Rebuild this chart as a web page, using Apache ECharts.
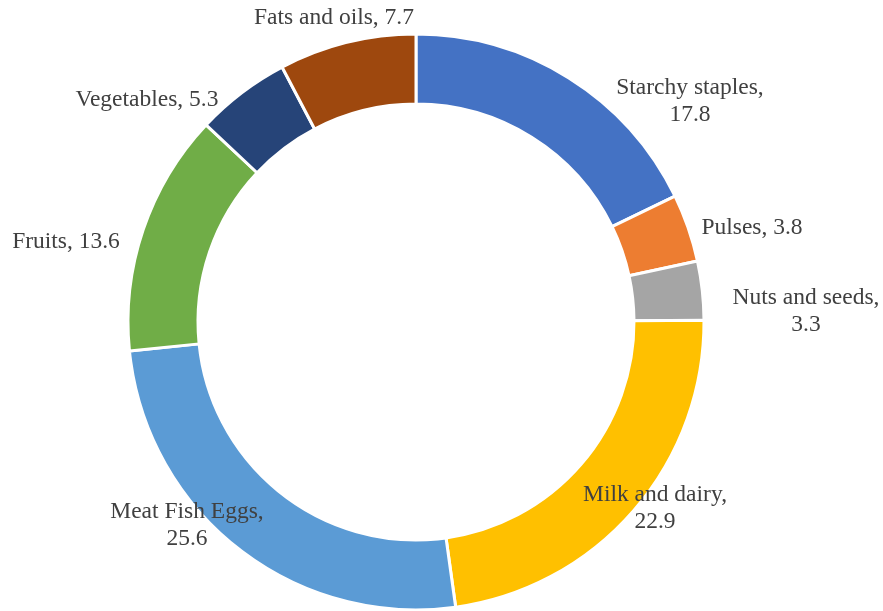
<!DOCTYPE html>
<html>
<head>
<meta charset="utf-8">
<script src="https://cdn.jsdelivr.net/npm/echarts@6/dist/echarts.min.js"></script>
<style>
  html, body { margin: 0; padding: 0; background: #fff; }
  #chart { width: 883px; height: 611px; }
</style>
</head>
<body>
<div id="chart"></div>
<script>
// 数据
const categories = ['Starchy staples', 'Pulses', 'Nuts and seeds', 'Milk and dairy',
                    'Meat Fish Eggs', 'Fruits', 'Vegetables', 'Fats and oils'];
const values = [17.8, 3.8, 3.3, 22.9, 25.6, 13.6, 5.3, 7.7];
const colors = ['#4472C4', '#ED7D31', '#A5A5A5', '#FFC000', '#5B9BD5', '#70AD47', '#264478', '#9E480E'];

// 标签位置 (Excel 风格)
const labelPos = [[690, 101], [752, 228], [806, 311], [655, 508],
                  [187, 525], [66, 242], [147, 100], [334, 18]];
const wrapLabel = [true, false, true, true, true, false, false, false];

const chart = echarts.init(document.getElementById('chart'));

const optionData = {
    color: colors,
    animation: false,
    series: [
        {
            type: 'pie',
            radius: [218, 288],
            center: [416, 322],
            startAngle: 90,
            clockwise: true,
            itemStyle: {
                borderColor: '#fff',
                borderWidth: 3
            },
            label: {
                show: true,
                fontFamily: 'Liberation Serif',
                fontSize: 23.5,
                lineHeight: 27,
                color: '#404040',
                align: 'center',
                overflow: 'none',
                edgeDistance: 0,
                bleedMargin: 0,
                formatter: function (p) {
                    return p.name + ',' + (wrapLabel[p.dataIndex] ? '\n' : ' ') + p.value;
                }
            },
            labelLine: { show: false },
            labelLayout: function (params) {
                const pos = labelPos[params.dataIndex];
                return {
                    x: pos[0],
                    y: pos[1],
                    align: 'center',
                    verticalAlign: 'middle',
                    moveOverlap: false
                };
            },
            emphasis: { disabled: true },
            data: categories.map(function (name, i) {
                return { name: name, value: values[i] };
            })
        }
    ]
};

chart.setOption(optionData);
</script>
</body>
</html>
